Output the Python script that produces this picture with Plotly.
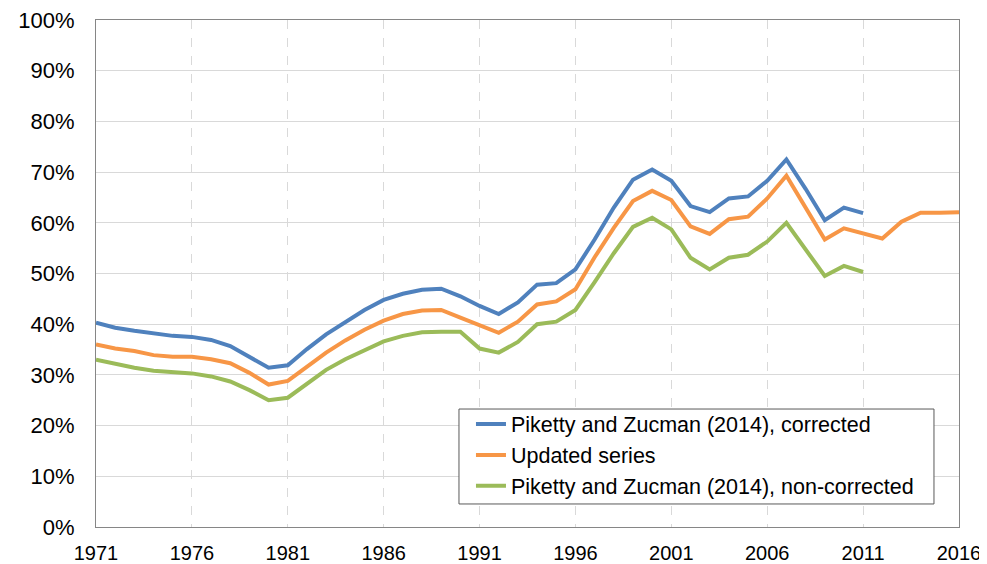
import plotly.graph_objects as go

years_pz = list(range(1971, 2012))
years_upd = list(range(1971, 2017))

pz_corrected = [40.3, 39.3, 38.7, 38.1, 37.7, 37.5, 36.9, 35.7, 33.6, 31.4,
                31.9, 35.1, 38.0, 40.5, 42.8, 44.8, 46.0, 46.8, 47.0, 45.5,
                43.6, 42.0, 44.3, 47.8, 48.1, 50.8, 56.7, 63.0, 68.5, 70.5,
                68.3, 63.3, 62.1, 64.8, 65.2, 68.3, 72.5, 66.7, 60.5, 63.0,
                61.9]

updated = [36.0, 35.2, 34.7, 33.9, 33.6, 33.6, 33.1, 32.3, 30.4, 28.1,
           28.8, 31.6, 34.4, 36.8, 38.9, 40.7, 42.0, 42.7, 42.8, 41.3,
           39.8, 38.3, 40.5, 43.9, 44.5, 46.9, 53.2, 59.0, 64.3, 66.3,
           64.5, 59.3, 57.8, 60.7, 61.2, 64.8, 69.3, 63.1, 56.7, 58.9,
           57.9, 56.9, 60.2, 62.0, 62.0, 62.1]

pz_noncorrected = [33.0, 32.1, 31.4, 30.8, 30.5, 30.3, 29.7, 28.7, 27.0, 25.0,
                   25.5, 28.3, 31.0, 33.1, 34.9, 36.6, 37.7, 38.4, 38.5, 38.5,
                   35.2, 34.4, 36.5, 40.0, 40.5, 42.8, 48.3, 54.0, 59.2, 61.0,
                   58.7, 53.1, 50.8, 53.1, 53.7, 56.3, 60.0, 54.7, 49.5, 51.5,
                   50.3]

names = ["Piketty and Zucman (2014), corrected",
         "Updated series",
         "Piketty and Zucman (2014), non-corrected"]
colors = ["#4F81BD", "#F79646", "#9BBB59"]

y_ticks = list(range(0, 101, 10))
y_tick_labels = [f"{v}%" for v in y_ticks]
x_ticks = list(range(1971, 2017, 5))

fig = go.Figure()
for xs, ys, nm, c in [(years_pz, pz_corrected, names[0], colors[0]),
                      (years_upd, updated, names[1], colors[1]),
                      (years_pz, pz_noncorrected, names[2], colors[2])]:
    fig.add_trace(go.Scatter(x=xs, y=ys, name=nm, mode="lines",
                             line=dict(color=c, width=4)))

# legend frame (drawn as a paper-referenced box)
fig.add_shape(type="rect", xref="paper", yref="paper",
              x0=0.4206, x1=0.9710, y0=0.0454, y1=0.2327,
              line=dict(color="#595959", width=1), fillcolor="white",
              layer="above")

font_family = "Liberation Sans, Arial, sans-serif"
fig.update_layout(
    width=987, height=564,
    margin=dict(l=88, r=36, t=12, b=45, autoexpand=False),
    paper_bgcolor="white", plot_bgcolor="white",
    font=dict(family=font_family, color="#000000"),
    showlegend=True,
    legend=dict(x=0.4345, y=0.2436, xanchor="left", yanchor="top",
                borderwidth=0, bgcolor="rgba(0,0,0,0)",
                font=dict(size=21.5, family=font_family, color="#000000"),
                tracegroupgap=0, itemwidth=30),
    xaxis=dict(range=[1971, 2016], tickvals=x_ticks,
               ticktext=[str(v) for v in x_ticks],
               showgrid=True, gridcolor="#d9d9d9", griddash="dash", gridwidth=1,
               showline=True, linecolor="#868686", linewidth=1, mirror=True,
               ticks="", tickfont=dict(size=20), ticklabelstandoff=8,
               ticklabeloverflow="allow",
               zeroline=False, fixedrange=True, automargin=False),
    yaxis=dict(range=[0, 100], tickvals=y_ticks, ticktext=y_tick_labels,
               showgrid=True, gridcolor="#d9d9d9", gridwidth=1,
               showline=True, linecolor="#868686", linewidth=1, mirror=True,
               ticks="", tickfont=dict(size=22), ticklabelstandoff=16,
               ticklabeloverflow="allow",
               zeroline=False, fixedrange=True, automargin=False),
)

fig.write_html("out.html")
